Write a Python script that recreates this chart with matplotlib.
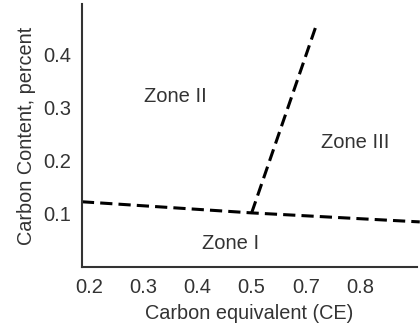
import matplotlib
matplotlib.use("Agg")
import matplotlib.pyplot as plt

# Zone boundary lines (CE position, carbon content)
lower_x = [0.186, 0.50, 0.811]
lower_y = [0.123, 0.102, 0.085]
upper_x = [0.50, 0.62]
upper_y = [0.102, 0.457]

tick_pos = [0.2, 0.3, 0.4, 0.5, 0.6, 0.7]
tick_labels = ["0.2", "0.3", "0.4", "0.5", "0.7", "0.8"]
ytick_pos = [0.1, 0.2, 0.3, 0.4]
ytick_labels = ["0.1", "0.2", "0.3", "0.4"]

zones = ["Zone I", "Zone II", "Zone III"]
zone_x = [0.461, 0.359, 0.691]
zone_y = [0.045, 0.321, 0.234]

plt.rcParams["font.family"] = ["Liberation Sans", "DejaVu Sans"]
text_color = "#333333"

fig = plt.figure(figsize=(4.2, 3.27), dpi=100)
ax = fig.add_axes([0.195, 0.1835, 0.798, 0.8045])

ax.plot(lower_x, lower_y, color="black", lw=2.2, dashes=(4, 2), clip_on=False)
ax.plot(upper_x, upper_y, color="black", lw=2.2, dashes=(4, 2), clip_on=False)

for name, zx, zy in zip(zones, zone_x, zone_y):
    ax.text(zx, zy, name, ha="center", va="center", fontsize=14.5, color=text_color)

ax.set_xlim(0.186, 0.806)
ax.set_ylim(0, 0.496)
ax.set_xticks(tick_pos)
ax.set_xticklabels(tick_labels)
ax.set_yticks(ytick_pos)
ax.set_yticklabels(ytick_labels)
ax.tick_params(length=0, labelsize=14.5, colors=text_color)
ax.tick_params(axis="x", pad=8)
ax.tick_params(axis="y", pad=8)

for side in ("top", "right"):
    ax.spines[side].set_visible(False)
for side in ("left", "bottom"):
    ax.spines[side].set_color("#333333")
    ax.spines[side].set_linewidth(1.5)

ax.set_xlabel("Carbon equivalent (CE)", fontsize=14.3, color=text_color, labelpad=5)
ax.set_ylabel("Carbon Content, percent", fontsize=14.3, color=text_color, labelpad=5)

fig.savefig("out.png", dpi=100)
